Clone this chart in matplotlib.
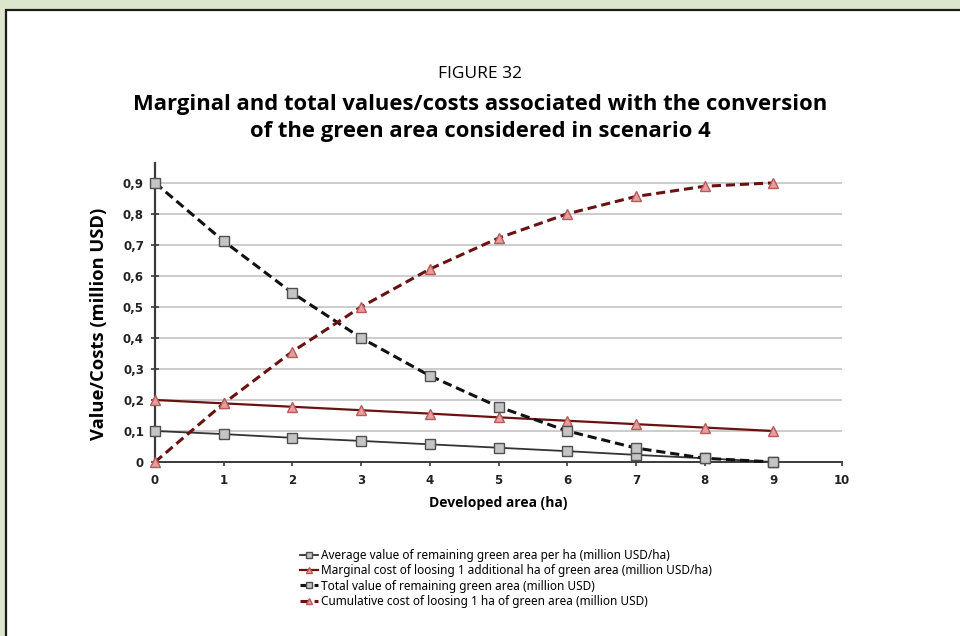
import matplotlib
matplotlib.use('Agg')
import matplotlib.pyplot as plt
from matplotlib.patches import Rectangle
from matplotlib.ticker import FuncFormatter

# developed area (ha)
area = [0, 1, 2, 3, 4, 5, 6, 7, 8, 9]
avg_value = [0.100, 0.090, 0.078, 0.068, 0.057, 0.046, 0.035, 0.023, 0.012, 0.000]
marginal_cost = [0.200, 0.189, 0.178, 0.167, 0.156, 0.144, 0.133, 0.122, 0.111, 0.100]
total_value = [0.900, 0.712, 0.545, 0.400, 0.278, 0.178, 0.100, 0.045, 0.012, 0.000]
cumulative_cost = [0.000, 0.189, 0.356, 0.500, 0.622, 0.722, 0.800, 0.856, 0.889, 0.900]

labels = ['Average value of remaining green area per ha (million USD/ha)',
          'Marginal cost of loosing 1 additional ha of green area (million USD/ha)',
          'Total value of remaining green area (million USD)',
          'Cumulative cost of loosing 1 ha of green area (million USD)']

plt.rcParams['font.family'] = ['Open Sans', 'DejaVu Sans']

fig = plt.figure(figsize=(9.6, 6.36), dpi=100)
fig.patch.set_facecolor('#dce6cc')
# white panel with dark border at top/left
fig.patches.append(Rectangle((6/960., -0.05), 1.1, 1 - 10/636. + 0.05,
                             transform=fig.transFigure, facecolor='white',
                             edgecolor='#1a1a1a', linewidth=1.6, zorder=-5))

fig.text(0.5, 1 - 74/636., 'FIGURE 32', ha='center', va='center', fontsize=12.5)
fig.text(0.5, 1 - 118/636., 'Marginal and total values/costs associated with the conversion\n'
         'of the green area considered in scenario 4', ha='center', va='center',
         fontsize=15.8, fontweight='bold', linespacing=1.35)

ax = fig.add_axes([155/960., 1 - 462/636., 687/960., (462 - 163)/636.])
ax.set_facecolor('none')

sq_face = '#c4c4c4'
sq_edge = '#505050'
tr_face = '#e89c9c'
tr_edge = '#b85a5a'
red_dark = '#6a1212'

ax.plot(area, avg_value, color='#333333', lw=1.3, marker='s', ms=7,
        mfc=sq_face, mec=sq_edge, mew=1.0, label=labels[0], zorder=3, clip_on=False)
ax.plot(area, marginal_cost, color=red_dark, lw=1.6, marker='^', ms=7,
        mfc=tr_face, mec=tr_edge, mew=1.0, label=labels[1], zorder=3, clip_on=False)
ax.plot(area, total_value, color='#111111', lw=2.2, ls=(0, (3, 1.6)), marker='s', ms=7,
        mfc=sq_face, mec=sq_edge, mew=1.0, label=labels[2], zorder=4, clip_on=False)
ax.plot(area, cumulative_cost, color=red_dark, lw=2.2, ls=(0, (3, 1.6)), marker='^', ms=7,
        mfc=tr_face, mec=tr_edge, mew=1.0, label=labels[3], zorder=4, clip_on=False)

ax.set_xlim(0, 10)
ax.set_ylim(0, 0.964)
ax.set_xticks(range(0, 11))
ax.set_yticks([i / 10. for i in range(10)])
ax.yaxis.set_major_formatter(FuncFormatter(
    lambda v, p: '0' if v == 0 else ('%.1f' % v).replace('.', ',')))
for y in [i / 10. for i in range(1, 10)]:
    ax.axhline(y, color='#c8c8c8', lw=1.3, zorder=1)

for s in ['top', 'right']:
    ax.spines[s].set_visible(False)
ax.spines['left'].set_color('#3a3a3a')
ax.spines['left'].set_linewidth(1.6)
ax.spines['bottom'].set_color('#3a3a3a')
ax.spines['bottom'].set_linewidth(1.4)
ax.tick_params(axis='x', direction='out', length=3, width=1.2, color='#3a3a3a', pad=6)
ax.tick_params(axis='y', direction='inout', length=6, width=1.2, color='#3a3a3a', pad=5)
for t in ax.get_xticklabels() + ax.get_yticklabels():
    t.set_fontfamily('DejaVu Sans')
    t.set_fontweight('bold')
    t.set_fontsize(8.5)
    t.set_color('#222222')

ax.set_xlabel('Developed area (ha)', fontsize=10, fontweight='bold', labelpad=6)
ax.set_ylabel('Value/Costs (million USD)', fontsize=13.2, fontweight='bold')
ax.yaxis.set_label_coords(-0.068, 0.4615)

fig.legend(loc='upper left', bbox_to_anchor=(294/960., 1 - 543/636.), frameon=False,
           prop={'family': 'Noto Sans', 'size': 8.5}, handlelength=1.5,
           handletextpad=0.25, labelspacing=0.2, borderpad=0, markerscale=0.55)

plt.savefig('out.png', dpi=100, facecolor=fig.get_facecolor())
